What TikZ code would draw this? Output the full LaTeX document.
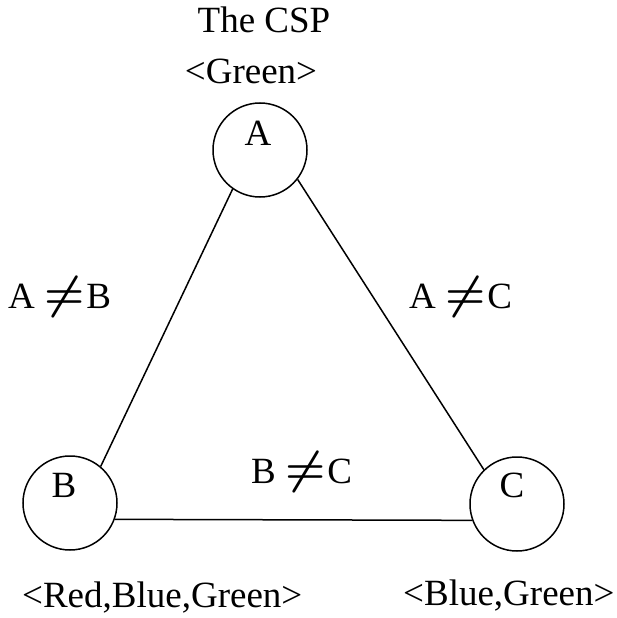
\documentclass[tikz,border=0pt]{standalone}
\usepackage{fontspec}
\setmainfont{Liberation Serif}
\usepackage{graphicx}
\newcommand{\neqsym}{\scalebox{1.85}{\boldmath$\neq$}\hspace{2pt}}
\begin{document}
\begin{tikzpicture}[x=1pt,y=-1pt,
  var/.style={draw,circle,line width=1.5pt,minimum size=94pt,inner sep=0pt},
  txt/.style={inner sep=0pt,font=\fontsize{37}{41}\selectfont},
  edge/.style={line width=1.5pt}]
\useasboundingbox (0,0) rectangle (617,618);
\node[var] (A) at (260,150) {};
\node[var] (B) at (70,503) {};
\node[var] (C) at (517,504) {};
\node[txt,anchor=base] (la) at (258,145) {A};
\node[txt,anchor=base] (lb) at (64,497) {B};
\node[txt,anchor=base] (lc) at (512,497) {C};
\node[txt,anchor=base] (title) at (264,33) {The CSP};
\node[txt,anchor=base] (da) at (251,83) {<Green>};
\node[txt,anchor=base west] (db) at (22,607) {<Red,Blue,Green>};
\node[txt,anchor=base west] (dc) at (403,605) {<Blue,Green>};
\node[txt,anchor=base west] (cab) at (8,308) {A \neqsym B};
\node[txt,anchor=base west] (cac) at (409,308) {A \neqsym C};
\node[txt,anchor=base west] (cbc) at (251,483) {B \neqsym C};
\draw[edge] (A.235) -- (B.50);
\draw[edge] (A.-38) -- (C.134);
\draw[edge] (B.-20) -- (C.200);
\end{tikzpicture}
\end{document}
